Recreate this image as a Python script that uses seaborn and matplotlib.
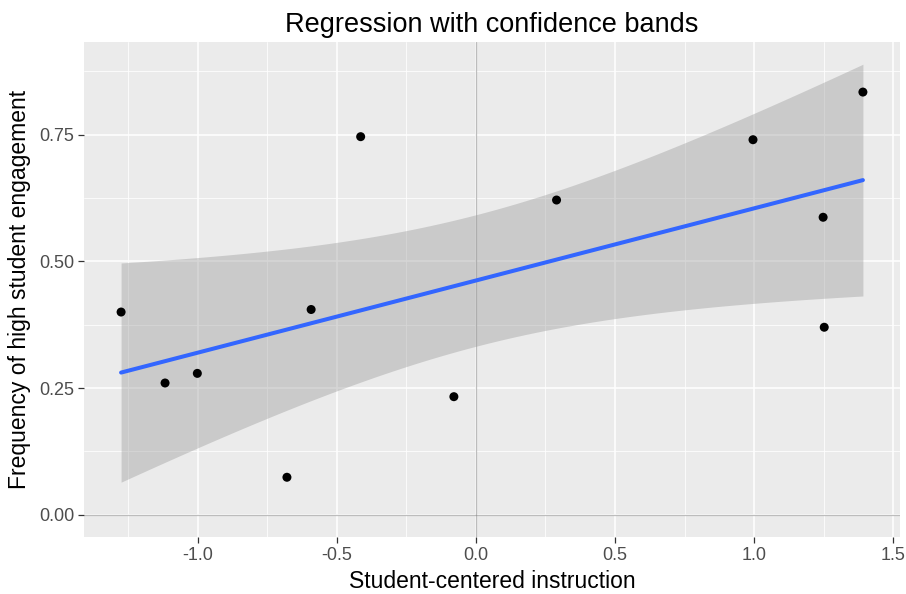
import numpy as np
import pandas as pd
import matplotlib
matplotlib.use("Agg")
import matplotlib.pyplot as plt
from matplotlib.ticker import MultipleLocator
import seaborn as sns

# Data
instruction = [-1.275, -1.117, -1.001, -0.679, -0.592, -0.414, -0.079, 0.290, 0.996, 1.248, 1.252, 1.391]
engagement = [0.400, 0.260, 0.279, 0.074, 0.405, 0.746, 0.233, 0.621, 0.740, 0.587, 0.370, 0.834]

title = "Regression with confidence bands"
xlabel = "Student-centered instruction"
ylabel = "Frequency of high student engagement"
xticks = [-1.0, -0.5, 0.0, 0.5, 1.0, 1.5]
xticklabels = ["-1.0", "-0.5", "0.0", "0.5", "1.0", "1.5"]
yticks = [0.00, 0.25, 0.50, 0.75]
yticklabels = ["0.00", "0.25", "0.50", "0.75"]

df = pd.DataFrame({"x": instruction, "y": engagement})

# Linear fit with 95% confidence band (t-based, as in geom_smooth(method="lm"))
x = np.asarray(instruction)
y = np.asarray(engagement)
n = len(x)
b1, b0 = np.polyfit(x, y, 1)
resid = y - (b0 + b1 * x)
s = np.sqrt(np.sum(resid ** 2) / (n - 2))
tcrit = 2.228  # t(0.975, df=10)
xs = np.linspace(x.min(), x.max(), 80)
fit = b0 + b1 * xs
se = s * np.sqrt(1 / n + (xs - x.mean()) ** 2 / np.sum((x - x.mean()) ** 2))
lo = fit - tcrit * se
hi = fit + tcrit * se
fit_df = pd.DataFrame({"x": xs, "y": fit})

sns.set_theme(style="darkgrid")
plt.rcParams["font.family"] = ["Liberation Sans", "DejaVu Sans"]

fig = plt.figure(figsize=(9.06, 5.94), dpi=100)
ax = fig.add_axes([84 / 906, 1 - 537.3 / 594, (900 - 84) / 906, (537.3 - 41.7) / 594])
ax.set_facecolor("#EBEBEB")

ax.axvline(0, color="grey", alpha=0.5, lw=0.9, zorder=1.5)
ax.axhline(0, color="grey", alpha=0.5, lw=0.9, zorder=1.5)
sns.scatterplot(data=df, x="x", y="y", ax=ax, color="black", s=42, edgecolor="none", zorder=3)
ax.fill_between(xs, lo, hi, color="#999999", alpha=0.4, lw=0, zorder=2)
sns.lineplot(data=fit_df, x="x", y="y", ax=ax, color="#3366FF", lw=2.9, zorder=4)

# ggplot-style expansion (5%)
xr = x.max() - x.min()
ax.set_xlim(x.min() - 0.05 * xr, x.max() + 0.05 * xr)
ymin = min(0.0, lo.min(), y.min())
ymax = max(hi.max(), y.max())
yr = ymax - ymin
ax.set_ylim(ymin - 0.05 * yr, ymax + 0.05 * yr)

ax.set_xticks(xticks)
ax.set_xticklabels(xticklabels)
ax.set_yticks(yticks)
ax.set_yticklabels(yticklabels)
ax.xaxis.set_minor_locator(MultipleLocator(0.25))
ax.yaxis.set_minor_locator(MultipleLocator(0.125))
ax.grid(which="major", color="white", lw=1.1)
ax.grid(which="minor", color="white", lw=0.55)
ax.set_axisbelow(True)
for sp in ax.spines.values():
    sp.set_visible(False)
ax.tick_params(axis="both", which="major", bottom=True, left=True, length=4, width=0.9,
               color="#333333", labelsize=13, labelcolor="#4D4D4D", pad=3)
ax.tick_params(axis="both", which="minor", bottom=False, left=False, length=0)

ax.set_xlabel(xlabel, fontsize=16.5, color="black", labelpad=4)
ax.set_ylabel(ylabel, fontsize=16.5, color="black", labelpad=6)
ax.set_title(title, fontsize=19.5, color="black", pad=7)

fig.savefig("out.png", dpi=100)
